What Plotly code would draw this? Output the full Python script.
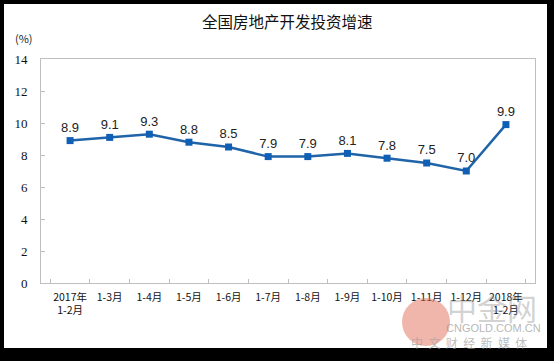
import plotly.graph_objects as go

categories = ["2017年<br>1-2月", "1-3月", "1-4月", "1-5月", "1-6月", "1-7月", "1-8月",
              "1-9月", "1-10月", "1-11月", "1-12月", "2018年<br>1-2月"]
growth = [8.9, 9.1, 9.3, 8.8, 8.5, 7.9, 7.9, 8.1, 7.8, 7.5, 7.0, 9.9]
y_ticks = [0, 2, 4, 6, 8, 10, 12, 14]
title_text = "全国房地产开发投资增速"
unit_text = "(%)"

W, H = 554, 361
L, R, T, B = 41, 19, 59, 78
pw, ph = W - L - R, H - T - B


def px(x):
    return (x - L) / pw


def py(y):
    return (H - B - y) / ph


fig = go.Figure()
fig.add_trace(go.Scatter(
    x=categories, y=growth, mode="lines+markers+text",
    line=dict(color="#1F63A8", width=2.5),
    marker=dict(symbol="square", size=7, color="#0F5FB5"),
    texttemplate="%{y:.1f}", textposition="top center",
    textfont=dict(family="Liberation Sans, Arial", size=13, color="#222222"),
    cliponaxis=False, showlegend=False, hoverinfo="skip",
))

shapes = [
    dict(type="rect", xref="paper", yref="paper", x0=px(4), x1=px(547), y0=py(348), y1=py(4),
         fillcolor="white", line=dict(width=0), layer="below"),
    dict(type="circle", xref="paper", yref="paper", x0=px(402), x1=px(450), y0=py(346), y1=py(298),
         fillcolor="rgba(225,110,90,0.5)", line=dict(width=0), layer="above"),
]


def ann(text, x, y, font):
    return dict(text=text, x=px(x), y=py(y), xref="paper", yref="paper", showarrow=False,
                xanchor="center", yanchor="middle", font=font)


sp = "\u00a0\u00a0"
annotations = [
    ann(title_text, 287, 21, dict(family="Noto Sans CJK SC", size=15.5, color="#111111")),
    ann(unit_text, 24, 38, dict(family="Noto Sans CJK SC", size=11, color="#222222")),
    ann("中金网", 492, 307, dict(family="Noto Sans CJK SC", size=30, color="rgba(140,140,140,0.4)")),
    ann("CNGOLD.COM.CN", 493, 328, dict(family="Liberation Sans", size=11, color="rgba(150,150,150,0.7)")),
    ann(sp.join("中文财经新媒体"), 469, 342, dict(family="Noto Sans CJK SC", size=12, color="rgba(160,160,160,0.7)")),
]

fig.update_layout(
    width=W, height=H,
    margin=dict(l=L, r=R, t=T, b=B, autoexpand=False),
    paper_bgcolor="black", plot_bgcolor="white",
    shapes=shapes, annotations=annotations,
    xaxis=dict(
        type="category", showline=True, linecolor="#BFBFBF", linewidth=1, mirror=True,
        ticks="inside", ticklen=4, tickcolor="#BFBFBF", tickson="boundaries",
        showgrid=False, zeroline=False, tickangle=0, automargin=False, ticklabelstandoff=4,
        tickfont=dict(family="Noto Sans CJK SC", size=10.5, color="#111111"),
    ),
    yaxis=dict(
        range=[0, 14], tickvals=y_ticks, showline=True, linecolor="#BFBFBF", linewidth=1,
        mirror=True, ticks="inside", ticklen=4, tickcolor="#BFBFBF",
        showgrid=False, zeroline=False, ticklabelstandoff=10, automargin=False,
        tickfont=dict(family="Liberation Serif", size=13, color="#111111"),
    ),
)

fig.write_html("out.html", config={"displayModeBar": False},
               post_script="document.body.style.margin='0';")
